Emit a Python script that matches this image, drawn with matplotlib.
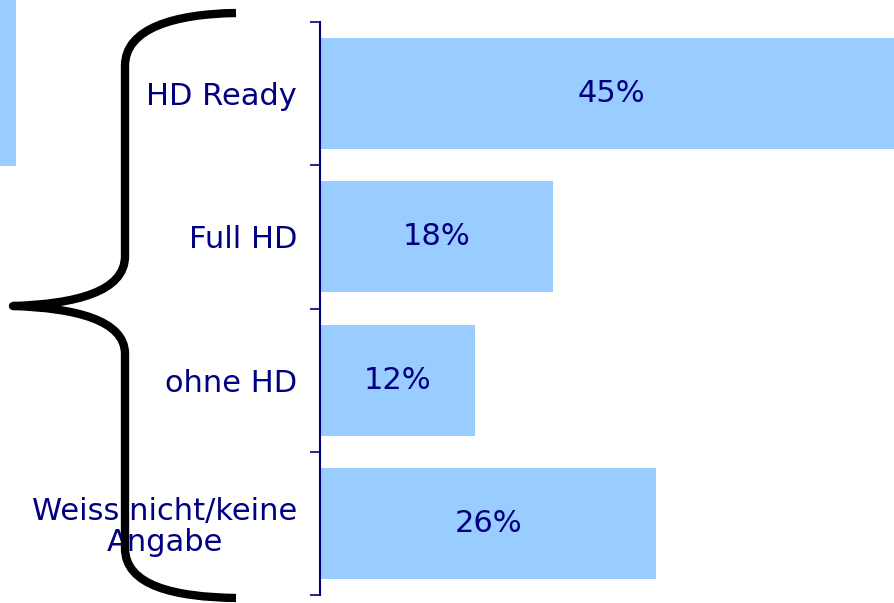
import matplotlib
matplotlib.use("Agg")
import matplotlib.pyplot as plt
from matplotlib.path import Path
from matplotlib.patches import PathPatch, Rectangle

# data
categories = ["HD Ready", "Full HD", "ohne HD", "Weiss nicht/keine\nAngabe"]
values = [45, 18, 12, 26]
value_labels = ["45%", "18%", "12%", "26%"]

navy = "#000080"
bar_color = "#99CCFF"

W, H = 895, 603
fig = plt.figure(figsize=(W / 100, H / 100), dpi=100)
plt.rcParams["font.family"] = ["DejaVu Sans"]

# axes in pixel units, extends past the right edge like the original slide
px_per_unit = 12.93
left, top, bottom = 320, 22, 595
ax = fig.add_axes([left / W, (H - bottom) / H, 50 * px_per_unit / W, (bottom - top) / H])
ax.set_xlim(0, 50)
ax.set_ylim(len(categories) - 0.5, -0.5)

ypos = list(range(len(categories)))
ax.barh(ypos, values, height=0.776, color=bar_color, edgecolor="none")
for y, v, lab in zip(ypos, values, value_labels):
    ax.text(v / 2, y, lab, ha="center", va="center", color=navy, fontsize=22)

# ticks between categories, labels at centres
ax.set_yticks([i - 0.5 for i in range(len(categories) + 1)])
ax.set_yticklabels([])
ax.set_yticks(ypos, minor=True)
ax.set_yticklabels(categories, minor=True, color=navy, fontsize=22,
                   multialignment="center", linespacing=1.08)
ax.tick_params(axis="y", which="major", length=7, width=1.2, color=navy)
ax.tick_params(axis="y", which="minor", length=0, pad=16.5)
ax.set_xticks([])
for s in ["top", "right", "bottom"]:
    ax.spines[s].set_visible(False)
ax.spines["left"].set_color(navy)
ax.spines["left"].set_linewidth(1.5)


def fp(x, y):
    return (x / W, 1 - y / H)


# curly brace on the left
pts = [(236, 13), (175, 14), (125, 28), (125, 66),
       (125, 256),
       (125, 292), (75, 304), (13, 306),
       (75, 308), (125, 320), (125, 354),
       (125, 548),
       (125, 586), (175, 597), (236, 598)]
codes = [Path.MOVETO, Path.CURVE4, Path.CURVE4, Path.CURVE4,
         Path.LINETO,
         Path.CURVE4, Path.CURVE4, Path.CURVE4,
         Path.CURVE4, Path.CURVE4, Path.CURVE4,
         Path.LINETO,
         Path.CURVE4, Path.CURVE4, Path.CURVE4]
brace = Path([fp(x, y) for x, y in pts], codes)
fig.patches.append(PathPatch(brace, transform=fig.transFigure, facecolor="none",
                             edgecolor="black", lw=6, capstyle="butt",
                             joinstyle="round"))

# leftover slide box at top left
fig.patches.append(Rectangle(fp(0, 166), 16 / W, 166 / H, transform=fig.transFigure,
                             facecolor=bar_color, edgecolor="none"))

fig.savefig("out.png", dpi=100)
